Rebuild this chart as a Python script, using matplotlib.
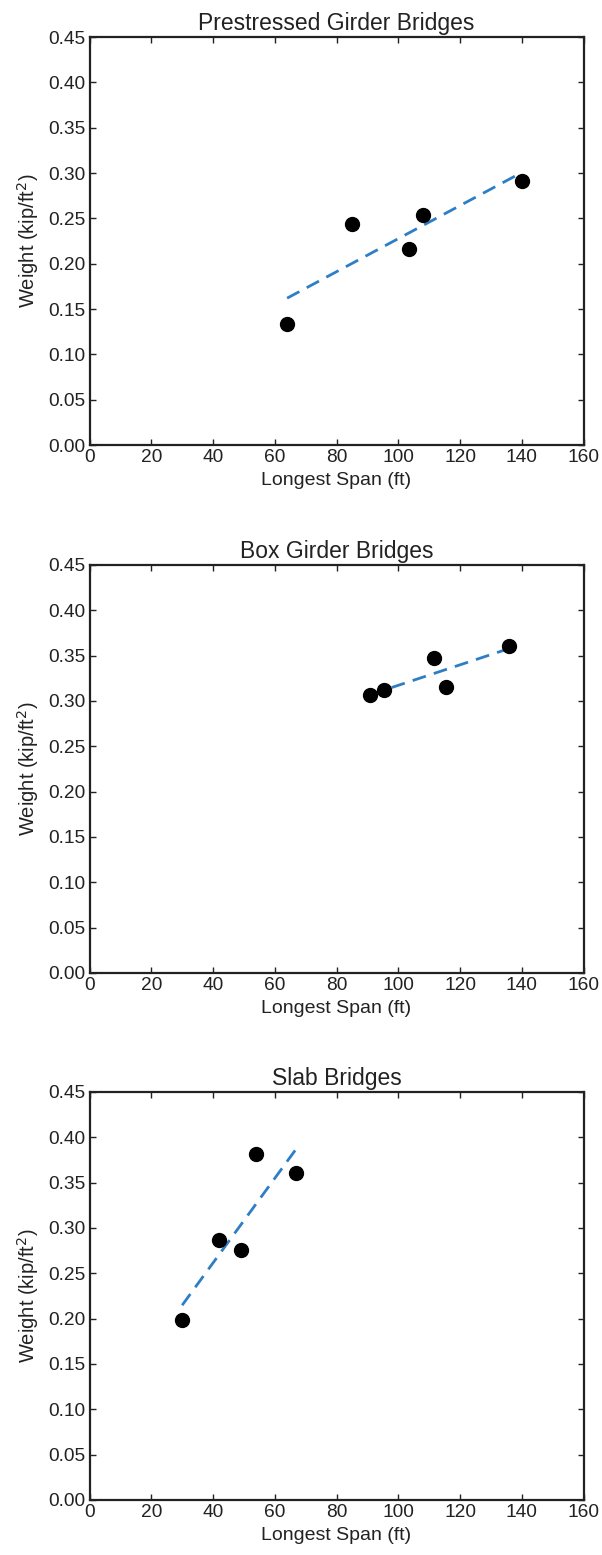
import numpy as np
import matplotlib
matplotlib.use("Agg")
import matplotlib.pyplot as plt

plt.rcParams['font.family'] = ['Liberation Sans', 'DejaVu Sans']

# longest span (ft) and superstructure weight (kip/ft^2) per bridge type
titles = ['Prestressed Girder Bridges', 'Box Girder Bridges', 'Slab Bridges']

pg_span = [64, 85, 103.5, 108, 140]
pg_weight = [0.134, 0.244, 0.216, 0.254, 0.291]

bg_span = [91, 95.5, 111.5, 115.5, 136]
bg_weight = [0.307, 0.312, 0.347, 0.315, 0.361]

slab_span = [30, 42, 49, 54, 67]
slab_weight = [0.198, 0.287, 0.276, 0.381, 0.361]

spans = [pg_span, bg_span, slab_span]
weights = [pg_weight, bg_weight, slab_weight]

x_ticks = [0, 20, 40, 60, 80, 100, 120, 140, 160]
y_ticks = [0.00, 0.05, 0.10, 0.15, 0.20, 0.25, 0.30, 0.35, 0.40, 0.45]

fig = plt.figure(figsize=(6.02, 15.55), dpi=100)

bottoms = [0.7138, 0.3743, 0.0354]
for i in range(3):
    ax = fig.add_axes([0.1487, bottoms[i], 0.8206, 0.2624])
    x = np.array(spans[i])
    y = np.array(weights[i])

    # least-squares trend line over the range of the data
    m, b = np.polyfit(x, y, 1)
    xf = np.array([x.min(), x.max()])
    ax.plot(xf, m * xf + b, '--', color='#2e7ec6', lw=2, dashes=(5, 3))
    ax.plot(x, y, 'o', color='black', ms=10, zorder=3)

    ax.set_xlim(0, 160)
    ax.set_ylim(0, 0.45)
    ax.set_xticks(x_ticks)
    ax.set_yticks(y_ticks)
    ax.set_yticklabels(['%.2f' % v for v in y_ticks])
    ax.tick_params(direction='in', top=True, right=True, length=4, width=1,
                   labelsize=13.8, colors='#222222', pad=3)
    for s in ax.spines.values():
        s.set_linewidth(1.6)
        s.set_color('#222222')

    ax.set_title(titles[i], fontsize=16.5, color='#222222', pad=5)
    ax.set_ylabel('Weight (kip/ft$^2$)', fontsize=14.5, color='#222222', labelpad=5)
    ax.set_xlabel('Longest Span (ft)', fontsize=14, color='#222222', labelpad=4)

fig.savefig('out.png', dpi=100)
